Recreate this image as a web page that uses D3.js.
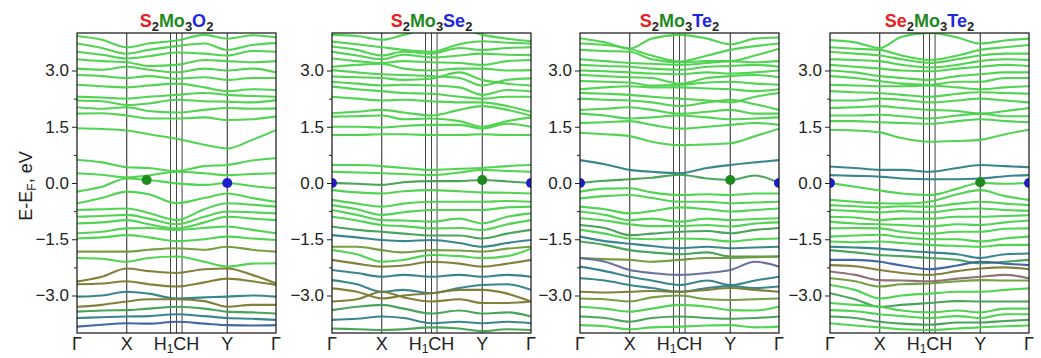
<!DOCTYPE html>
<html><head><meta charset="utf-8">
<script src="https://cdn.jsdelivr.net/npm/d3@7"></script>
<style>body{margin:0;background:#fff}</style>
</head><body><svg id="c" width="1041" height="358"></svg>
<script>
// ---------- data ----------
// k positions along Γ–X–H1–C–H–Y–Γ (fraction of path) where band energies were read
const kPath = [0, 0.125, 0.25, 0.36, 0.5, 0.64, 0.755, 0.88, 1];
const kLines = [0.25, 0.47, 0.5, 0.528, 0.755];
const kLabels = [
  {k: 0, parts: [["Γ", 0]]},
  {k: 0.25, parts: [["X", 0]]},
  {k: 0.5, parts: [["H", 0], ["1", 1], ["CH", 0]]},
  {k: 0.755, parts: [["Y", 0]]},
  {k: 1, parts: [["Γ", 0]]}
];
const yTicks = [-3, -1.5, 0, 1.5, 3];
const yMinor = [-2.25, -0.75, 0.75, 2.25];

const titleP1 = [["S","r",0],["2","k",1],["Mo","g",0],["3","k",1],["O","b",0],["2","k",1]];
const titleP2 = [["S","r",0],["2","k",1],["Mo","g",0],["3","k",1],["Se","b",0],["2","k",1]];
const titleP3 = [["S","r",0],["2","k",1],["Mo","g",0],["3","k",1],["Te","b",0],["2","k",1]];
const titleP4 = [["Se","r",0],["2","k",1],["Mo","g",0],["3","k",1],["Te","b",0],["2","k",1]];

// bands: energies (eV) at kPath; chars: projected character code of each band
const bandsP1 = [
 [3.92,3.82,3.62,3.72,3.80,3.95,3.85,3.94,3.88],
 [3.72,3.60,3.45,3.55,3.65,3.72,3.55,3.68,3.73],
 [3.50,3.42,3.32,3.38,3.48,3.45,3.40,3.52,3.50],
 [3.30,3.25,3.22,3.12,3.15,3.28,3.25,3.22,3.25],
 [3.05,3.02,3.10,3.02,2.95,3.05,3.00,3.05,2.95],
 [2.88,2.85,2.80,2.85,2.78,2.82,2.75,2.80,2.80],
 [2.62,2.58,2.55,2.60,2.65,2.55,2.45,2.50,2.48],
 [2.30,2.28,2.25,2.30,2.35,2.40,2.35,2.32,2.30],
 [2.20,2.18,2.08,2.12,2.22,2.18,2.17,2.15,2.21],
 [2.02,1.98,2.02,1.92,1.88,1.95,2.00,1.98,1.99],
 [1.85,1.86,1.80,1.72,1.72,1.75,1.68,1.70,1.77],
 [1.46,1.44,1.40,1.30,1.18,1.02,0.92,1.15,1.41],
 [0.62,0.55,0.42,0.40,0.32,0.45,0.48,0.60,0.66],
 [0.26,0.22,0.15,0.20,0.30,0.26,0.21,0.24,0.26],
 [-0.23,-0.10,0.12,0.08,-0.01,-0.05,0.00,-0.08,-0.14],
 [-0.54,-0.40,-0.23,-0.30,-0.54,-0.40,-0.28,-0.40,-0.50],
 [-0.72,-0.70,-0.68,-0.80,-0.99,-0.70,-0.54,-0.58,-0.63],
 [-0.90,-0.88,-0.85,-0.95,-1.10,-0.90,-0.76,-0.78,-0.81],
 [-1.08,-1.05,-0.99,-1.10,-1.21,-1.05,-0.90,-0.95,-0.99],
 [-1.34,-1.30,-1.21,-1.20,-1.25,-1.20,-1.16,-1.25,-1.34],
 [-1.48,-1.45,-1.39,-1.45,-1.55,-1.50,-1.43,-1.48,-1.52],
 [-1.83,-1.83,-1.83,-1.78,-1.74,-1.78,-1.70,-1.78,-1.83],
 [-2.00,-2.02,-2.10,-2.00,-1.96,-2.10,-2.23,-2.15,-2.14],
 [-2.63,-2.50,-2.28,-2.35,-2.40,-2.30,-2.28,-2.45,-2.68],
 [-2.70,-2.68,-2.62,-2.70,-2.76,-2.65,-2.55,-2.62,-2.72],
 [-3.03,-3.00,-2.90,-2.95,-3.08,-3.05,-3.03,-3.00,-3.03],
 [-3.30,-3.25,-3.16,-3.10,-3.10,-3.15,-3.30,-3.25,-3.25],
 [-3.43,-3.40,-3.39,-3.35,-3.30,-3.35,-3.43,-3.45,-3.48],
 [-3.60,-3.58,-3.56,-3.55,-3.50,-3.55,-3.60,-3.62,-3.65],
 [-3.83,-3.78,-3.74,-3.75,-3.70,-3.75,-3.79,-3.80,-3.79]
];
const charsP1 = ["g","g","g","g","g","g","g","g","g","g","g","g","g","g","g","g","g","g","g","g","g","y","g","o","o","t","o","d","t","b"];
const dotsP1 = [{k:0.35,e:0.08,c:"g"},{k:0.755,e:0.0,c:"b"}];

const bandsP2 = [
 [3.95,3.92,3.82,3.95,4.10,4.10,3.95,3.85,3.78],
 [3.77,3.70,3.62,3.55,3.50,3.70,3.78,3.74,3.72],
 [3.64,3.55,3.40,3.50,3.45,3.60,3.55,3.60,3.62],
 [3.50,3.40,3.30,3.42,3.35,3.40,3.45,3.42,3.41],
 [3.32,3.25,3.20,3.25,3.22,3.20,3.15,3.25,3.28],
 [3.10,3.15,3.18,3.05,3.00,3.05,3.05,3.00,3.01],
 [3.01,2.95,2.90,2.88,2.85,2.80,2.60,2.75,2.79],
 [2.84,2.82,2.80,2.75,2.78,2.95,2.75,2.65,2.60],
 [2.70,2.65,2.60,2.62,2.60,2.55,2.35,2.48,2.44],
 [2.57,2.50,2.45,2.40,2.38,2.30,2.25,2.30,2.30],
 [2.30,2.25,2.20,2.22,2.18,2.15,2.15,2.05,1.90],
 [1.86,1.90,1.95,1.88,1.80,1.95,2.05,1.95,1.80],
 [1.77,1.78,1.80,1.70,1.72,1.65,1.50,1.65,1.75],
 [1.50,1.50,1.48,1.52,1.55,1.55,1.45,1.58,1.50],
 [1.28,1.28,1.30,1.30,1.28,1.28,1.30,1.28,1.28],
 [0.48,0.48,0.45,0.40,0.35,0.38,0.40,0.45,0.48],
 [0.30,0.28,0.26,0.24,0.21,0.28,0.35,0.32,0.30],
 [0.00,-0.02,-0.05,0.02,0.05,0.05,0.08,0.04,0.00],
 [-0.19,-0.25,-0.28,-0.22,-0.19,-0.22,-0.25,-0.26,-0.28],
 [-0.45,-0.55,-0.63,-0.55,-0.50,-0.50,-0.50,-0.48,-0.50],
 [-0.59,-0.70,-0.85,-0.78,-0.72,-0.72,-0.72,-0.65,-0.63],
 [-0.72,-0.85,-0.99,-1.00,-1.03,-0.95,-1.08,-0.90,-0.81],
 [-0.90,-1.00,-1.12,-1.15,-1.21,-1.20,-1.25,-1.10,-0.99],
 [-1.16,-1.25,-1.30,-1.35,-1.40,-1.40,-1.48,-1.35,-1.25],
 [-1.39,-1.45,-1.52,-1.55,-1.52,-1.60,-1.70,-1.60,-1.52],
 [-1.70,-1.70,-1.79,-1.85,-1.79,-1.80,-1.83,-1.75,-1.70],
 [-1.79,-1.90,-2.10,-2.05,-1.92,-1.95,-2.00,-1.95,-1.75],
 [-2.05,-2.15,-2.23,-2.20,-2.10,-2.15,-2.23,-2.15,-2.05],
 [-2.32,-2.40,-2.50,-2.45,-2.50,-2.45,-2.50,-2.45,-2.50],
 [-2.59,-2.70,-2.90,-2.85,-2.94,-2.80,-2.72,-2.70,-2.85],
 [-2.81,-2.90,-3.08,-3.00,-2.94,-2.85,-2.85,-2.95,-3.16],
 [-3.16,-3.10,-2.90,-3.05,-3.16,-3.10,-3.20,-3.20,-3.16],
 [-3.39,-3.30,-3.25,-3.35,-3.48,-3.40,-3.48,-3.45,-3.56],
 [-3.65,-3.62,-3.56,-3.60,-3.74,-3.70,-3.74,-3.70,-3.74],
 [-3.88,-3.90,-3.92,-3.90,-3.85,-3.88,-3.95,-3.90,-3.92]
];
const charsP2 = ["g","g","g","g","g","g","g","g","g","g","g","g","g","g","g","g","g","d","g","g","g","g","g","d","t","y","g","o","t","t","o","o","d","t","d"];
const dotsP2 = [{k:0,e:0,c:"b"},{k:1,e:0,c:"b"},{k:0.755,e:0.08,c:"g"}];

const bandsP3 = [
 [3.86,3.75,3.58,3.85,3.95,3.85,3.70,3.85,3.88],
 [3.72,3.68,3.58,3.40,3.24,3.40,3.55,3.65,3.72],
 [3.55,3.52,3.50,3.30,3.22,3.25,3.25,3.40,3.58],
 [3.30,3.25,3.20,3.18,3.15,3.20,3.25,3.22,3.25],
 [3.15,3.12,3.10,3.05,3.02,3.10,3.12,3.15,3.10],
 [3.00,2.98,2.95,2.92,2.90,2.95,2.92,2.95,3.00],
 [2.88,2.85,2.82,2.80,2.65,2.80,2.85,2.88,2.82],
 [2.72,2.70,2.68,2.60,2.62,2.68,2.70,2.65,2.62],
 [2.50,2.55,2.58,2.55,2.55,2.52,2.50,2.45,2.50],
 [2.40,2.38,2.35,2.30,2.25,2.20,2.15,2.30,2.40],
 [2.25,2.22,2.20,2.15,2.05,2.15,2.22,2.10,1.95],
 [1.95,1.98,2.02,1.95,1.85,1.90,1.95,1.85,1.85],
 [1.85,1.80,1.72,1.75,1.80,1.75,1.70,1.72,1.75],
 [1.60,1.62,1.65,1.55,1.45,1.50,1.55,1.60,1.55],
 [1.34,1.30,1.25,1.10,1.01,1.03,1.06,1.25,1.45],
 [0.61,0.50,0.35,0.30,0.26,0.40,0.48,0.55,0.61],
 [0.00,0.06,0.10,0.14,0.22,0.12,0.08,0.20,0.00],
 [-0.23,-0.15,-0.14,-0.25,-0.32,-0.30,-0.32,-0.28,-0.28],
 [-0.41,-0.35,-0.32,-0.40,-0.50,-0.50,-0.54,-0.52,-0.50],
 [-0.63,-0.70,-0.81,-0.75,-0.65,-0.70,-0.76,-0.72,-0.68],
 [-0.76,-0.85,-0.99,-0.95,-1.03,-0.95,-0.99,-0.96,-0.94],
 [-0.94,-1.00,-1.10,-1.15,-1.15,-1.12,-1.16,-1.08,-1.05],
 [-1.12,-1.20,-1.39,-1.35,-1.30,-1.28,-1.34,-1.25,-1.20],
 [-1.25,-1.35,-1.48,-1.50,-1.48,-1.50,-1.56,-1.50,-1.48],
 [-1.43,-1.55,-1.62,-1.68,-1.74,-1.70,-1.74,-1.72,-1.70],
 [-1.56,-1.65,-1.79,-1.85,-1.90,-1.85,-1.96,-1.96,-1.96],
 [-2.00,-2.03,-2.05,-2.10,-2.05,-2.00,-2.00,-1.98,-1.96],
 [-2.00,-2.10,-2.32,-2.40,-2.45,-2.40,-2.32,-2.10,-2.23],
 [-2.23,-2.35,-2.50,-2.60,-2.72,-2.60,-2.72,-2.60,-2.50],
 [-2.54,-2.60,-2.72,-2.80,-2.90,-2.80,-2.75,-2.80,-2.76],
 [-2.90,-2.92,-2.90,-2.88,-2.90,-2.85,-2.80,-2.85,-2.90],
 [-3.08,-3.10,-3.16,-3.05,-3.00,-3.10,-3.12,-3.10,-3.08],
 [-3.30,-3.35,-3.43,-3.35,-3.25,-3.30,-3.39,-3.40,-3.30],
 [-3.56,-3.60,-3.70,-3.60,-3.56,-3.60,-3.62,-3.60,-3.56],
 [-3.79,-3.82,-3.90,-3.85,-3.83,-3.80,-3.79,-3.85,-3.83]
];
const charsP3 = ["g","g","g","g","g","g","g","g","g","g","g","g","g","g","g","t","d","g","g","g","g","g","d","g","t","d","y","p","t","t","o","y","g","d","g"];
const dotsP3 = [{k:0,e:0,c:"b"},{k:1,e:0,c:"b"},{k:0.755,e:0.08,c:"g"}];

const bandsP4 = [
 [3.81,3.75,3.60,3.90,4.00,3.88,3.72,3.80,3.85],
 [3.62,3.58,3.55,3.40,3.28,3.40,3.55,3.62,3.68],
 [3.50,3.45,3.40,3.30,3.20,3.30,3.40,3.45,3.45],
 [3.30,3.28,3.25,3.15,3.08,3.15,3.25,3.30,3.28],
 [3.15,3.10,3.05,3.00,2.98,3.05,3.10,3.15,3.12],
 [3.00,2.95,2.85,2.80,2.75,2.85,2.90,2.95,2.95],
 [2.85,2.80,2.72,2.65,2.62,2.70,2.70,2.80,2.80],
 [2.62,2.60,2.58,2.58,2.60,2.55,2.50,2.55,2.58],
 [2.45,2.42,2.40,2.35,2.30,2.38,2.42,2.40,2.38],
 [2.20,2.20,2.25,2.22,2.15,2.20,2.25,2.20,2.15],
 [2.00,2.02,2.05,2.00,1.95,1.92,1.85,1.92,2.00],
 [1.80,1.80,1.82,1.78,1.72,1.80,1.85,1.78,1.78],
 [1.65,1.65,1.62,1.60,1.58,1.65,1.70,1.65,1.62],
 [1.42,1.40,1.35,1.20,1.10,1.12,1.15,1.30,1.42],
 [0.44,0.40,0.35,0.35,0.30,0.40,0.48,0.45,0.42],
 [0.21,0.19,0.17,0.12,0.10,0.10,0.12,0.18,0.21],
 [0.00,-0.10,-0.20,-0.28,-0.32,-0.15,0.00,-0.02,0.00],
 [-0.45,-0.50,-0.54,-0.55,-0.50,-0.30,-0.19,-0.35,-0.45],
 [-0.59,-0.62,-0.65,-0.62,-0.63,-0.55,-0.50,-0.55,-0.59],
 [-0.72,-0.75,-0.78,-0.75,-0.78,-0.70,-0.68,-0.72,-0.74],
 [-0.90,-0.92,-0.99,-0.95,-0.95,-0.90,-0.90,-0.88,-0.86],
 [-1.03,-1.08,-1.10,-1.12,-1.16,-1.10,-1.12,-1.05,-1.00],
 [-1.21,-1.20,-1.21,-1.30,-1.35,-1.30,-1.30,-1.22,-1.21],
 [-1.43,-1.40,-1.38,-1.45,-1.50,-1.50,-1.56,-1.48,-1.43],
 [-1.56,-1.58,-1.56,-1.60,-1.65,-1.68,-1.70,-1.65,-1.65],
 [-1.70,-1.72,-1.75,-1.80,-1.85,-1.90,-2.00,-1.90,-1.88],
 [-1.79,-1.85,-1.92,-1.95,-2.00,-2.05,-2.14,-2.10,-2.05],
 [-2.05,-2.05,-2.10,-2.20,-2.30,-2.20,-2.10,-2.15,-2.19],
 [-2.19,-2.22,-2.32,-2.40,-2.45,-2.35,-2.28,-2.25,-2.30],
 [-2.36,-2.45,-2.59,-2.60,-2.62,-2.55,-2.50,-2.45,-2.54],
 [-2.54,-2.62,-2.76,-2.70,-2.68,-2.62,-2.59,-2.60,-2.60],
 [-2.72,-2.85,-3.08,-3.00,-2.95,-2.90,-2.90,-2.85,-2.81],
 [-2.94,-3.10,-3.30,-3.25,-3.20,-3.15,-3.16,-3.16,-3.16],
 [-3.20,-3.25,-3.30,-3.40,-3.45,-3.40,-3.45,-3.35,-3.35],
 [-3.39,-3.42,-3.50,-3.55,-3.60,-3.55,-3.60,-3.50,-3.50],
 [-3.56,-3.60,-3.70,-3.75,-3.78,-3.72,-3.72,-3.68,-3.65],
 [-3.74,-3.80,-3.85,-3.90,-3.92,-3.88,-3.85,-3.82,-3.80]
];
const charsP4 = ["g","g","g","g","g","g","g","g","g","g","g","g","g","g","t","t","g","g","g","g","g","g","g","g","g","t","d","b","o","m","y","g","d","g","g","d","g"];
const dotsP4 = [{k:0,e:0,c:"b"},{k:1,e:0,c:"b"},{k:0.755,e:0.02,c:"g"}];

// ---------- styles ----------
const bandColor = {g:"#48d248", d:"#3fa050", y:"#6f9a3a", o:"#7a7a32", t:"#2f8088", b:"#3a5fa0", p:"#5f6a9a", m:"#8a6a70"};
const titleColor = {r:"#e8201e", g:"#1e8a1e", b:"#1e28e0", k:"#222"};
const dotColor = {g:"#1e8a1e", b:"#1e1ecc"};

const panels = [
  {left:77, title:titleP1, bands:bandsP1, chars:charsP1, dots:dotsP1},
  {left:332, title:titleP2, bands:bandsP2, chars:charsP2, dots:dotsP2},
  {left:580, title:titleP3, bands:bandsP3, chars:charsP3, dots:dotsP3},
  {left:830, title:titleP4, bands:bandsP4, chars:charsP4, dots:dotsP4}
];
const W = 199, TOP = 33, BOT = 333;
const FONT = "'Liberation Sans', Arial, Helvetica, sans-serif";

const svg = d3.select("#c");
const y = d3.scaleLinear().domain([-4, 4]).range([BOT, TOP]);

panels.forEach((p, pi) => {
  const x = d3.scaleLinear().domain([0, 1]).range([p.left, p.left + W]);
  const g = svg.append("g");
  const clipId = "clip" + pi;
  svg.append("clipPath").attr("id", clipId).append("rect")
    .attr("x", p.left).attr("y", TOP).attr("width", W).attr("height", BOT - TOP);

  // high-symmetry lines
  g.selectAll("line.k").data(kLines).join("line")
    .attr("x1", d => x(d)).attr("x2", d => x(d))
    .attr("y1", TOP).attr("y2", BOT)
    .attr("stroke", (d, i) => (i >= 1 && i <= 3) ? "#444" : "#222")
    .attr("stroke-width", 1);

  // bands
  const line = d3.line()
    .x((d, i) => x(kPath[i])).y(d => y(d))
    .curve(d3.curveMonotoneX);
  g.append("g").attr("clip-path", `url(#${clipId})`)
    .selectAll("path").data(p.bands).join("path")
    .attr("d", line)
    .attr("fill", "none")
    .attr("stroke", (d, i) => bandColor[p.chars[i]])
    .attr("stroke-width", 2.1)
    .attr("stroke-opacity", 0.95);

  // dots
  g.append("g").attr("clip-path", `url(#${clipId})`)
    .selectAll("circle").data(p.dots).join("circle")
    .attr("cx", d => x(d.k)).attr("cy", d => y(d.e)).attr("r", 5)
    .attr("fill", d => dotColor[d.c]);

  // frame
  g.append("rect").attr("x", p.left).attr("y", TOP).attr("width", W).attr("height", BOT - TOP)
    .attr("fill", "none").attr("stroke", "#111").attr("stroke-width", 1.2);

  // y axis
  const ax = g.append("g").attr("transform", `translate(${p.left},0)`)
    .call(d3.axisLeft(y).tickValues(yTicks).tickSize(5).tickPadding(3).tickFormat(d3.format(".1f")));
  ax.select(".domain").remove();
  ax.selectAll("text").attr("font-family", FONT).attr("font-size", 17).attr("fill", "#222");
  ax.selectAll("line").attr("stroke", "#222");
  const axm = g.append("g").attr("transform", `translate(${p.left},0)`)
    .call(d3.axisLeft(y).tickValues(yMinor).tickSize(3).tickFormat(""));
  axm.select(".domain").remove();
  axm.selectAll("line").attr("stroke", "#222");

  // x labels
  kLabels.forEach(l => {
    const t = g.append("text").attr("x", x(l.k)).attr("y", 350)
      .attr("text-anchor", "middle").attr("font-family", FONT).attr("font-size", 18).attr("fill", "#222");
    l.parts.forEach(([s, sub], j) => {
      const ts = t.append("tspan").text(s);
      if (sub) ts.attr("font-size", 12).attr("dy", 3);
      else if (j > 0) ts.attr("dy", -3);
    });
  });

  // title
  const tt = g.append("text").attr("x", p.left + W / 2).attr("y", 27)
    .attr("text-anchor", "middle").attr("font-family", FONT).attr("font-weight", "bold").attr("font-size", 18);
  let prevSub = 0;
  p.title.forEach(([s, c, sub]) => {
    const ts = tt.append("tspan").text(s).attr("fill", titleColor[c]);
    if (sub) ts.attr("font-size", 13).attr("dy", 4);
    else if (prevSub) ts.attr("dy", -4);
    prevSub = sub;
  });
});

// y axis title
const yl = svg.append("text").attr("transform", "translate(32,186) rotate(-90)")
  .attr("text-anchor", "middle").attr("font-family", FONT).attr("font-size", 18).attr("fill", "#222");
yl.append("tspan").text("E-E");
yl.append("tspan").text("F").attr("font-size", 12).attr("dy", 4);
yl.append("tspan").text(", eV").attr("dy", -4);
</script>
</body></html>
